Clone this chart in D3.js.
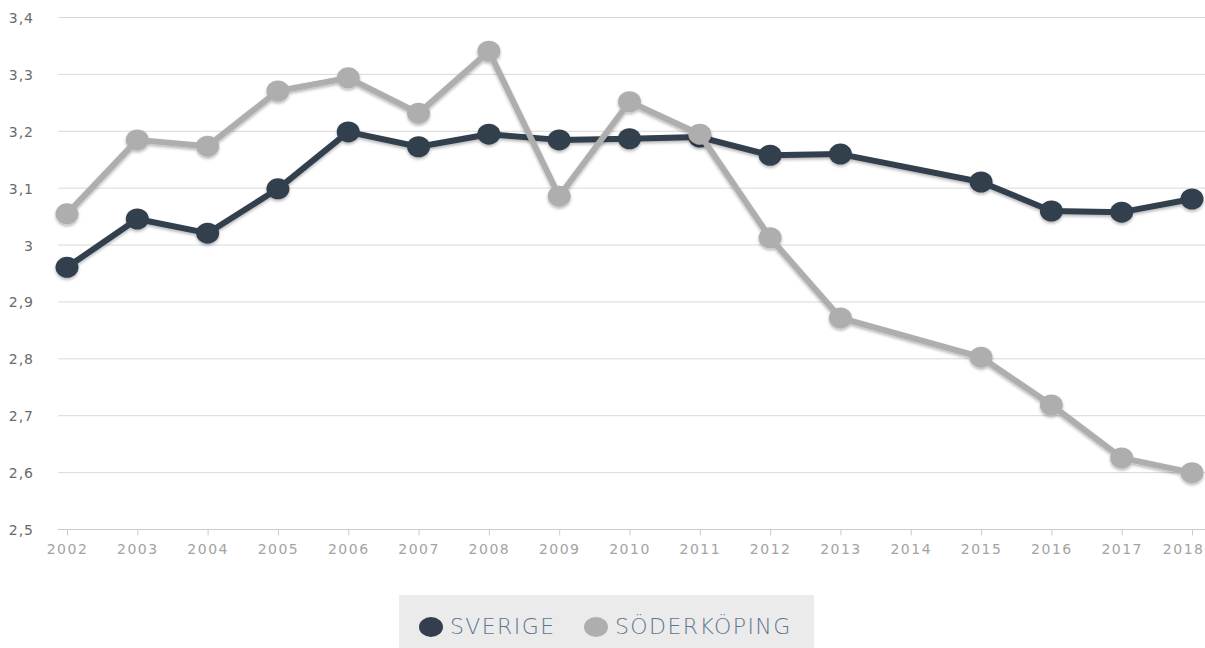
<!DOCTYPE html>
<html>
<head>
<meta charset="utf-8">
<script src="https://cdn.jsdelivr.net/npm/d3@7"></script>
<style>
  body { margin: 0; background: #fff; }
  svg { display: block; font-family: "DejaVu Sans", Verdana, sans-serif; }
</style>
</head>
<body>
<script>
// years on the axis, values per series (null = no data)
const years = [2002, 2003, 2004, 2005, 2006, 2007, 2008, 2009, 2010, 2011, 2012, 2013, 2014, 2015, 2016, 2017, 2018];
const sverige = [2.96, 3.045, 3.02, 3.098, 3.198, 3.172, 3.194, 3.184, 3.186, 3.189, 3.157, 3.159, null, 3.11, 3.059, 3.057, 3.08];
const soderkoping = [3.054, 3.184, 3.173, 3.27, 3.293, 3.231, 3.34, 3.085, 3.251, 3.194, 3.012, 2.871, null, 2.802, 2.718, 2.625, 2.599];
const yTicks = [2.5, 2.6, 2.7, 2.8, 2.9, 3.0, 3.1, 3.2, 3.3, 3.4];
const seriesNames = ["SVERIGE", "SÖDERKÖPING"];
const colors = ["#333f4e", "#aeaeae"];

const W = 1205, H = 648;
const svg = d3.select("body").append("svg").attr("width", W).attr("height", H);

const defs = svg.append("defs");
const f = defs.append("filter").attr("id", "shadow")
    .attr("x", "-20%").attr("y", "-20%").attr("width", "140%").attr("height", "160%");
f.append("feDropShadow").attr("dx", 0).attr("dy", 2).attr("stdDeviation", 1.8)
    .attr("flood-color", "#000").attr("flood-opacity", 0.28);

const x = d3.scaleLinear().domain([2002, 2018]).range([67, 1192]);
const y = d3.scaleLinear().domain([2.5, 3.4]).range([529, 17]);

const fmt = v => d3.format(".1~f")(v).replace(".", ",");

// grid
svg.append("g").selectAll("line")
    .data(yTicks.filter(t => t > 2.5))
    .enter().append("line")
    .attr("x1", 58).attr("x2", W)
    .attr("y1", d => y(d) + 0.5).attr("y2", d => y(d) + 0.5)
    .attr("stroke", "#d9d9d9").attr("stroke-width", 1);

// y labels
svg.append("g").selectAll("text")
    .data(yTicks)
    .enter().append("text")
    .attr("x", 34).attr("y", d => y(d) + 6)
    .attr("text-anchor", "end")
    .attr("font-size", 14).attr("fill", "#6a6a6a")
    .attr("letter-spacing", "1px")
    .text(fmt);

// x axis
const xAxis = svg.append("g").attr("transform", "translate(0,529.5)")
    .call(d3.axisBottom(x).tickValues(years).tickFormat(d3.format("d")).tickSize(6).tickSizeOuter(0));
xAxis.select(".domain").attr("stroke", "#ccc").attr("d", `M58,0H${W}`);
xAxis.selectAll(".tick line").attr("stroke", "#ccc");
xAxis.selectAll(".tick text").attr("fill", "#a3a3a3").attr("font-size", 14)
    .attr("font-family", "DejaVu Sans, sans-serif").attr("y", 24).attr("dy", 0)
    .attr("letter-spacing", "1.5px");
// keep the last year label inside the page
xAxis.selectAll(".tick").filter(d => d === 2018).select("text")
    .attr("text-anchor", "end").attr("x", 12);

// series
const series = [sverige, soderkoping].map((vals, i) => ({
    name: seriesNames[i],
    color: colors[i],
    points: years.map((yr, j) => ({ yr, v: vals[j] })).filter(p => p.v != null)
}));

const line = d3.line().x(d => x(d.yr)).y(d => y(d.v));

series.forEach(s => {
    const g = svg.append("g").attr("filter", "url(#shadow)");
    g.append("path").datum(s.points)
        .attr("d", line)
        .attr("fill", "none").attr("stroke", s.color)
        .attr("stroke-width", 6).attr("stroke-linejoin", "round");
    g.selectAll("ellipse").data(s.points).enter().append("ellipse")
        .attr("cx", d => x(d.yr)).attr("cy", d => y(d.v))
        .attr("rx", 11.5).attr("ry", 10.5)
        .attr("fill", s.color);
});

// legend
const lg = svg.append("g");
lg.append("rect").attr("x", 399).attr("y", 595).attr("width", 415).attr("height", 53).attr("fill", "#ebebeb");
const legendX = [431, 596];
series.forEach((s, i) => {
    lg.append("ellipse").attr("cx", legendX[i]).attr("cy", 627).attr("rx", 12).attr("ry", 10).attr("fill", s.color);
    lg.append("text").attr("x", legendX[i] + 19).attr("y", 634)
        .attr("font-size", 22).attr("fill", "#5f7690")
        .attr("font-family", "'DejaVu Sans', sans-serif")
        .attr("font-weight", 200)
        .attr("letter-spacing", "1.4px")
        .text(s.name);
});
</script>
</body>
</html>
